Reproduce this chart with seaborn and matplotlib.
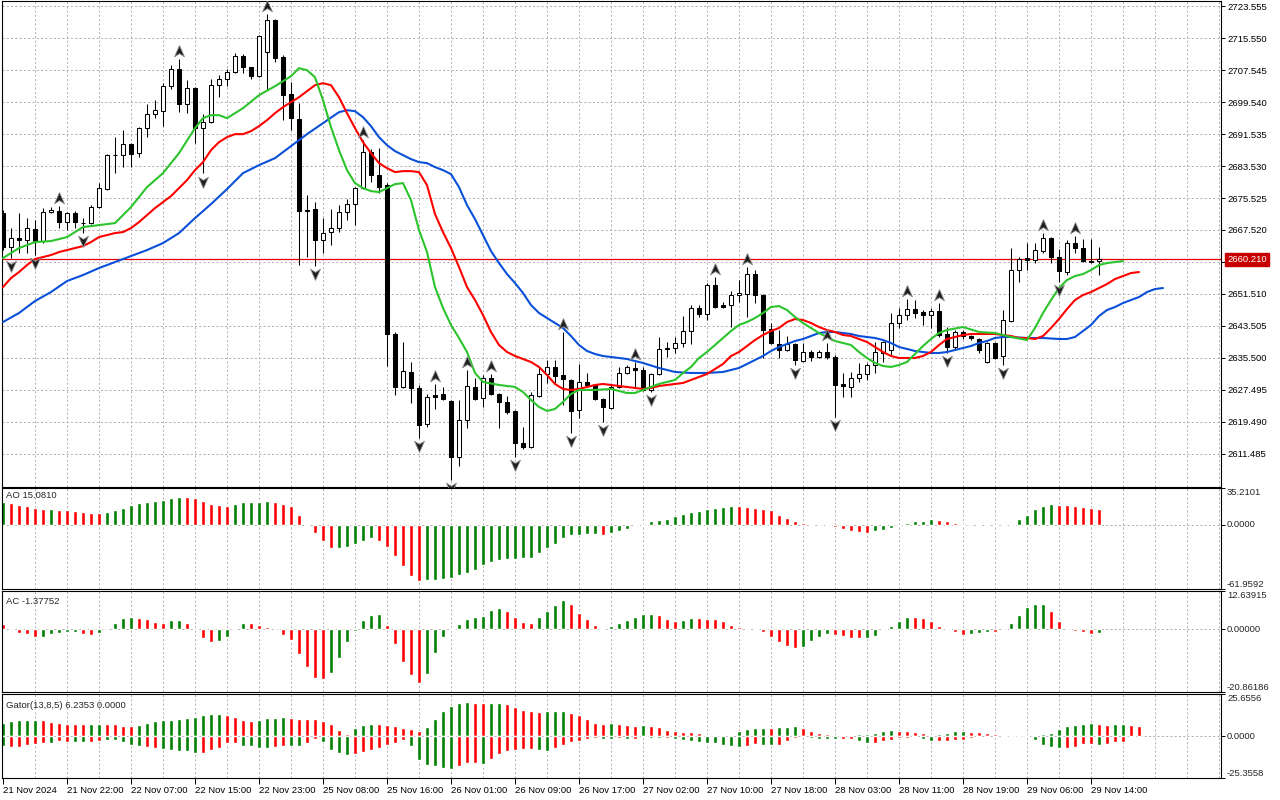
import numpy as np
import matplotlib
matplotlib.use("Agg")
import matplotlib.pyplot as plt
from matplotlib.path import Path
from matplotlib.transforms import blended_transform_factory
import seaborn as sns

sns.set_style("white")
plt.rcParams["font.family"] = ["Liberation Sans", "DejaVu Sans"]
plt.rcParams["font.size"] = 6.8

# ---------------- data (H1 candles, 21 Nov 14:00 .. 29 Nov 15:00) ----------------
opens = [
    2671.75, 2663.3, 2665.5, 2665.0, 2667.75, 2664.75, 2672.0, 2672.25, 2669.5, 2671.75,
    2669.25, 2669.25, 2673.25, 2677.75, 2686.25, 2686.25, 2689.0, 2686.75, 2693.0, 2696.5,
    2697.25, 2703.5, 2707.75, 2699.0, 2703.0, 2693.0, 2694.5, 2703.75, 2705.25, 2707.0,
    2711.0, 2708.25, 2706.0, 2712.0, 2720.0, 2710.75, 2701.5, 2695.25, 2672.5, 2672.75,
    2665.0, 2667.0, 2668.0, 2672.0, 2674.0, 2678.0, 2687.0, 2681.25, 2678.75, 2641.5,
    2628.25, 2632.0, 2628.0, 2619.0, 2626.25, 2626.5, 2624.75, 2610.75, 2620.0, 2628.25,
    2625.5, 2630.5, 2626.5, 2624.5, 2622.25, 2614.25, 2613.25, 2626.0, 2631.5, 2633.25,
    2631.25, 2630.0, 2622.5, 2629.5, 2628.75, 2625.25, 2623.0, 2628.25, 2631.75, 2633.0,
    2632.5, 2627.5, 2631.5, 2638.0, 2638.0, 2639.25, 2642.25, 2648.0, 2646.5, 2653.75,
    2648.75, 2648.75, 2651.25, 2651.5, 2656.5, 2651.25, 2642.75, 2639.0, 2637.5, 2639.0,
    2634.75, 2637.0, 2635.75, 2637.0, 2635.75, 2629.0, 2628.25, 2630.5, 2631.5, 2633.75,
    2636.75, 2637.5, 2644.25, 2646.25, 2647.75, 2647.0, 2646.25, 2647.25, 2641.5, 2638.25,
    2642.0, 2641.0, 2640.25, 2634.5, 2639.25, 2636.0, 2644.75, 2657.5, 2660.5, 2660.0,
    2662.25, 2665.5, 2660.75, 2657.0, 2664.25, 2663.0, 2659.75, 2659.75]
highs = [
    2672.5, 2668.0, 2671.75, 2670.5, 2670.0, 2673.0, 2673.25, 2673.5, 2672.0, 2672.25,
    2670.5, 2673.75, 2679.25, 2686.5, 2690.75, 2692.5, 2689.2, 2693.25, 2699.0, 2700.0,
    2704.25, 2708.75, 2710.25, 2705.0, 2703.2, 2696.5, 2705.25, 2706.25, 2707.75, 2711.75,
    2711.5, 2708.4, 2716.25, 2721.5, 2720.25, 2711.25, 2704.5, 2699.25, 2676.25, 2674.5,
    2670.5, 2672.75, 2673.75, 2675.25, 2678.2, 2690.0, 2687.75, 2688.0, 2679.25, 2642.0,
    2639.5, 2634.5, 2628.75, 2626.5, 2629.0, 2628.25, 2625.0, 2625.0, 2632.5, 2630.5,
    2631.25, 2631.5, 2626.7, 2626.0, 2622.4, 2618.25, 2627.0, 2633.25, 2635.0, 2635.0,
    2642.0, 2630.2, 2634.0, 2631.75, 2629.0, 2625.5, 2628.75, 2633.25, 2633.75, 2634.5,
    2633.25, 2631.7, 2640.75, 2639.5, 2640.75, 2646.0, 2648.75, 2648.75, 2654.25, 2655.75,
    2649.5, 2652.25, 2655.0, 2658.25, 2657.5, 2651.5, 2644.25, 2642.5, 2641.0, 2639.25,
    2639.25, 2637.5, 2637.5, 2639.25, 2636.25, 2631.75, 2632.0, 2634.25, 2634.25, 2639.5,
    2639.7, 2646.75, 2648.0, 2650.25, 2650.0, 2647.5, 2648.0, 2649.25, 2643.25, 2642.5,
    2642.5, 2641.25, 2640.5, 2639.4, 2639.4, 2647.5, 2663.0, 2660.75, 2664.25, 2664.25,
    2666.75, 2665.75, 2662.75, 2665.0, 2666.0, 2665.25, 2665.25, 2663.25]
lows = [
    2662.5, 2660.5, 2661.75, 2661.75, 2661.25, 2664.25, 2671.75, 2668.0, 2667.5, 2668.0,
    2666.75, 2669.0, 2673.0, 2677.5, 2681.75, 2683.25, 2683.25, 2685.75, 2690.75, 2695.5,
    2693.5, 2702.75, 2697.0, 2696.75, 2689.25, 2681.75, 2694.3, 2700.75, 2703.5, 2706.75,
    2706.75, 2705.25, 2705.75, 2702.5, 2709.5, 2695.0, 2692.5, 2658.75, 2660.75, 2658.5,
    2661.75, 2663.75, 2667.0, 2670.0, 2668.75, 2677.8, 2679.5, 2676.75, 2633.5, 2626.25,
    2628.0, 2624.25, 2615.5, 2618.25, 2622.75, 2625.0, 2605.0, 2608.5, 2618.0, 2625.0,
    2623.25, 2626.3, 2618.0, 2621.5, 2610.75, 2612.75, 2613.0, 2625.8, 2629.25, 2629.25,
    2623.75, 2616.75, 2620.5, 2628.25, 2625.0, 2619.5, 2622.8, 2628.0, 2631.5, 2628.25,
    2627.3, 2627.0, 2631.3, 2635.75, 2636.75, 2638.25, 2639.0, 2645.75, 2645.0, 2648.1,
    2648.0, 2643.25, 2649.5, 2645.75, 2649.25, 2635.5, 2639.0, 2635.5, 2637.3, 2633.75,
    2634.5, 2634.75, 2635.5, 2635.25, 2620.75, 2625.75, 2625.75, 2629.5, 2630.0, 2631.75,
    2634.5, 2636.25, 2643.0, 2645.0, 2645.5, 2643.75, 2643.0, 2640.75, 2636.75, 2637.5,
    2640.25, 2640.0, 2636.75, 2634.3, 2635.2, 2633.75, 2644.6, 2654.5, 2657.5, 2659.25,
    2661.75, 2659.25, 2654.5, 2656.25, 2661.75, 2659.5, 2659.25, 2656.25]
closes = [
    2663.25, 2665.4, 2665.0, 2668.0, 2664.75, 2672.0, 2672.5, 2669.5, 2671.75, 2669.5,
    2669.3, 2673.25, 2678.0, 2686.25, 2686.4, 2689.0, 2686.5, 2693.0, 2696.5, 2697.5,
    2703.5, 2707.75, 2699.0, 2703.0, 2693.0, 2694.5, 2703.75, 2705.25, 2707.0, 2711.0,
    2708.25, 2706.0, 2716.0, 2720.0, 2710.5, 2701.25, 2695.5, 2672.25, 2672.3, 2665.0,
    2666.75, 2668.0, 2672.0, 2674.0, 2678.0, 2687.0, 2681.25, 2678.25, 2641.5, 2628.25,
    2632.25, 2628.0, 2618.75, 2625.75, 2625.75, 2625.25, 2610.75, 2620.0, 2628.5, 2625.25,
    2630.5, 2626.5, 2624.5, 2622.0, 2614.25, 2613.25, 2626.25, 2631.5, 2633.25, 2631.0,
    2630.25, 2622.25, 2629.5, 2628.75, 2625.25, 2623.25, 2628.25, 2631.75, 2633.25, 2632.5,
    2627.5, 2631.5, 2637.75, 2637.75, 2639.25, 2642.25, 2648.0, 2646.5, 2653.75, 2648.25,
    2648.25, 2651.25, 2651.75, 2656.5, 2651.25, 2642.5, 2639.25, 2637.5, 2639.0, 2635.0,
    2637.0, 2635.75, 2637.0, 2635.75, 2628.75, 2628.5, 2630.5, 2631.5, 2633.75, 2637.0,
    2639.5, 2644.25, 2646.25, 2647.75, 2646.75, 2646.25, 2647.25, 2641.25, 2638.25, 2642.0,
    2641.0, 2640.5, 2637.5, 2639.25, 2635.5, 2645.0, 2657.5, 2660.25, 2660.0, 2662.5,
    2665.5, 2660.75, 2657.25, 2664.25, 2663.0, 2659.75, 2659.5, 2660.21]

fractal_up = [7, 22, 33, 45, 54, 58, 61, 70, 79, 89, 93, 103, 113, 117, 130, 134]
fractal_down = [1, 4, 10, 25, 39, 52, 56, 64, 71, 75, 81, 99, 104, 118, 125, 132]

# Alligator (jaw 13/8 blue, teeth 8/5 red, lips 5/3 green), read at these bars
jaw_x = [0, 2, 4, 6, 8, 10, 12, 14, 16, 18, 20, 22, 24, 26, 28, 30, 32, 34, 36, 38, 40, 42, 43, 44,
         45, 46, 47, 48, 49, 50, 51, 52, 53, 54, 55, 56, 57, 58, 59, 60, 61, 62, 63, 64, 65, 66,
         67, 68, 69, 70, 71, 72, 73, 74, 75, 76, 78, 80, 82, 84, 86, 88, 90, 92, 93, 94, 95, 96,
         97, 98, 99, 100, 101, 102, 103, 104, 105, 106, 107, 108, 109, 110, 111, 112, 113, 114,
         115, 116, 117, 118, 119, 120, 121, 122, 123, 124, 125, 126, 128, 130, 132, 133, 134,
         135, 136, 137, 138, 139, 140, 141, 142, 143, 144, 145]
jaw = [2644.5, 2646.75, 2649.75, 2652.0, 2654.75, 2656.25, 2658.0, 2659.5, 2661.0, 2662.5,
       2664.25, 2666.75, 2670.5, 2674.0, 2677.75, 2681.75, 2683.75, 2685.5, 2688.5, 2691.5,
       2694.25, 2697.0, 2697.5, 2697.25, 2695.75, 2693.5, 2690.75, 2688.75, 2687.25, 2686.25,
       2685.25, 2684.5, 2684.25, 2683.25, 2682.5, 2681.5, 2678.25, 2673.75, 2670.25, 2666.25,
       2662.25, 2659.25, 2656.5, 2654.25, 2651.75, 2648.75, 2646.75, 2645.5, 2644.25, 2643.0,
       2641.0, 2638.75, 2637.25, 2636.5, 2636.0, 2635.75, 2635.25, 2634.25, 2633.0, 2632.0,
       2631.75, 2631.75, 2632.0, 2633.0, 2634.0, 2635.0, 2636.0, 2637.25, 2638.25, 2639.0,
       2639.75, 2640.25, 2641.0, 2641.75, 2642.0, 2642.0, 2641.75, 2641.5, 2641.0, 2640.75,
       2640.5, 2640.0, 2639.25, 2638.25, 2637.75, 2637.25, 2637.0, 2636.75, 2636.75, 2637.0,
       2637.5, 2638.0, 2638.5, 2639.25, 2639.75, 2640.5, 2640.75, 2640.75, 2640.5, 2640.5,
       2640.25, 2640.25, 2640.75, 2642.25, 2643.75, 2646.0, 2647.5, 2648.25, 2649.25, 2650.0,
       2650.75, 2652.0, 2652.75, 2653.0]
teeth = [
    2653.25, 2655.5, 2657.0, 2658.75, 2660.25, 2660.75, 2661.25, 2662.0, 2662.5, 2663.0,
    2663.5, 2664.5, 2665.75, 2666.25, 2666.75, 2667.0, 2668.0, 2669.5, 2671.25, 2673.0,
    2674.5, 2676.0, 2678.0, 2680.0, 2682.5, 2684.5, 2687.5, 2689.5, 2690.75, 2691.5,
    2691.5, 2692.25, 2693.5, 2695.0, 2696.75, 2698.25, 2699.5, 2700.75, 2702.25, 2703.75,
    2704.25, 2703.75, 2700.75, 2696.75, 2693.0, 2689.5, 2686.75, 2684.25, 2683.0, 2682.0,
    2682.25, 2682.25, 2682.0, 2678.75, 2671.5, 2667.0, 2663.0, 2658.25, 2653.25, 2650.0,
    2646.25, 2642.0, 2638.75, 2637.0, 2636.0, 2635.25, 2634.5, 2633.25, 2631.25, 2629.0,
    2627.75, 2627.5, 2627.75, 2628.25, 2628.75, 2629.0, 2628.75, 2628.5, 2628.25, 2628.0,
    2627.75, 2628.0, 2628.5, 2628.75, 2629.0, 2629.25, 2630.0, 2630.75, 2631.5, 2632.75,
    2634.0, 2636.0, 2637.0, 2638.5, 2640.0, 2641.25, 2642.25, 2643.0, 2644.5, 2645.25,
    2645.0, 2644.25, 2643.25, 2642.5, 2642.0, 2641.25, 2641.0, 2640.25, 2639.5, 2638.25,
    2637.0, 2636.0, 2635.5, 2635.5, 2635.5, 2636.0, 2637.0, 2638.75, 2640.25, 2640.75,
    2641.25, 2641.5, 2641.5, 2641.5, 2641.5, 2641.25, 2641.0, 2640.5, 2640.5, 2640.25,
    2641.0, 2643.0, 2645.25, 2647.75, 2650.0, 2651.25, 2652.0, 2653.0, 2654.0, 2655.25,
    2656.0, 2656.75, 2657.0]
lips_x = [0, 2, 4, 6, 8, 10, 12, 14, 16, 18, 20, 22, 24, 25, 26, 27, 28, 30, 32, 34, 36, 37, 38,
          39, 40, 41, 42, 43, 44, 45, 46, 47, 48, 49, 50, 51, 52, 53, 54, 55, 56, 57, 58, 59, 60,
          62, 64, 65, 66, 67, 68, 69, 70, 71, 72, 74, 76, 78, 79, 80, 82, 84, 85, 86, 87, 88, 89,
          90, 91, 92, 93, 94, 95, 96, 97, 98, 99, 100, 101, 102, 103, 104, 106, 107, 108, 109,
          110, 111, 112, 113, 114, 115, 116, 117, 118, 120, 122, 124, 126, 128, 129, 130, 131,
          132, 133, 134, 135, 136, 137, 138, 140]
lips = [2660.5, 2663.0, 2664.5, 2664.75, 2665.75, 2668.25, 2668.75, 2669.25, 2673.25, 2678.25,
        2681.75, 2686.75, 2693.0, 2695.5, 2696.25, 2696.25, 2695.5, 2698.0, 2701.25, 2703.5,
        2706.0, 2708.0, 2707.5, 2705.75, 2700.0, 2693.25, 2687.5, 2682.5, 2679.25, 2678.0,
        2677.25, 2677.0, 2678.0, 2679.0, 2679.25, 2675.0, 2667.5, 2662.0, 2653.25, 2648.0,
        2643.75, 2640.5, 2637.0, 2631.75, 2629.5, 2628.75, 2628.25, 2627.0, 2625.0, 2623.25,
        2622.25, 2622.75, 2624.5, 2626.5, 2627.5, 2627.5, 2627.75, 2626.75, 2626.75, 2627.5,
        2629.0, 2630.0, 2631.75, 2633.25, 2635.5, 2637.0, 2638.75, 2640.5, 2642.25, 2643.75,
        2644.5, 2645.5, 2646.75, 2648.25, 2648.5, 2647.5, 2645.75, 2644.25, 2643.0, 2641.75,
        2640.75, 2639.75, 2638.75, 2637.0, 2635.5, 2634.25, 2633.5, 2633.25, 2633.75, 2634.5,
        2636.5, 2638.5, 2640.25, 2641.75, 2642.5, 2643.25, 2642.0, 2641.75, 2640.75, 2640.0,
        2643.0, 2646.75, 2650.0, 2653.0, 2655.0, 2656.0, 2656.5, 2657.5, 2658.75, 2659.25,
        2659.75]

ao = [21.7, 20.7, 18.5, 18.3, 15.9, 14.6, 14.7, 14.5, 13.7, 12.7,
      12.1, 11.2, 11.0, 12.1, 13.7, 16.2, 18.5, 20.7, 21.7, 22.4,
      23.2, 25.8, 27.0, 26.8, 25.8, 22.3, 20.1, 18.5, 18.3, 19.4,
      22.0, 22.1, 22.2, 22.3, 22.0, 19.4, 17.5, 9.5, 1.0, -8.0,
      -15.6, -22.9, -22.3, -21.3, -18.8, -15.6, -12.7, -15.6, -21.3, -30.3,
      -39.8, -49.0, -54.1, -53.2, -53.0, -52.2, -51.6, -48.4, -46.2, -43.6,
      -38.9, -36.3, -34.1, -33.1, -33.0, -32.4, -31.8, -27.1, -22.9, -18.8,
      -12.7, -10.2, -10.0, -9.2, -9.0, -10.2, -8.0, -6.1, -4.5, -1.3,
      1.0, 3.2, 4.8, 5.7, 8.0, 10.5, 12.1, 13.1, 14.6, 16.2,
      17.2, 17.8, 17.5, 17.2, 16.2, 15.3, 13.7, 9.6, 6.7, 3.2,
      1.3, 0.3, -0.3, -1.3, -2.5, -4.1, -5.7, -7.0, -8.0, -6.4,
      -4.8, -3.2, -1.3, 1.6, 3.2, 3.8, 5.1, 4.1, 3.2, 1.6,
      0.3, -0.2, -0.5, -0.8, -1.3, 0.3, 1.0, 5.1, 9.6, 14.6,
      17.8, 19.4, 19.2, 18.5, 17.5, 16.9, 16.2, 15.081]
ao_col = ("grrrrrgrrr" "rrrggggggg" "gggrrrrrrg" "ggggrrrrrr" "rrgggggrrr"
          "rrrggggggg" "gggggggggg" "gggggrgggg" "gggggggggg" "ggrrrrrrrr"
          "rrrrrrrrrg" "gggggggrrr" "rrrrrggggg" "ggrrrrrr")

ac = [1.7, -0.1, -1.3, -1.7, -2.6, -2.5, -1.7, -1.3, -1.1, -0.9,
      -1.7, -2.0, -1.3, -0.1, 2.0, 3.7, 4.1, 3.6, 3.3, 2.4,
      2.0, 3.0, 3.1, 2.0, -0.1, -3.0, -4.2, -3.9, -2.6, -0.1,
      2.0, 1.9, 1.3, 0.6, 0.05, -1.9, -3.6, -8.3, -12.6, -16.2,
      -16.7, -14.7, -9.7, -4.2, -0.6, 3.0, 4.7, 5.0, 1.3, -5.0,
      -10.9, -15.3, -18.0, -15.0, -8.0, -2.6, -0.2, 1.7, 3.3, 4.1,
      4.4, 6.4, 7.0, 5.9, 4.1, 2.4, 1.9, 4.1, 6.1, 8.1,
      9.7, 8.3, 5.3, 3.3, 1.3, -0.2, 0.9, 1.9, 3.0, 4.1,
      5.0, 5.1, 4.8, 3.3, 2.8, 3.0, 3.7, 3.6, 3.3, 3.2,
      2.6, 1.3, 0.6, -0.1, -0.2, -1.1, -2.6, -4.4, -5.6, -6.4,
      -5.9, -4.1, -2.6, -1.6, -1.9, -2.3, -2.8, -2.9, -2.8, -2.2,
      -0.3, 1.1, 2.6, 4.1, 3.9, 3.6, 2.6, 0.9, -0.2, -1.1,
      -1.9, -1.7, -1.2, -0.8, -1.0, -0.1, 1.9, 4.7, 7.2, 8.3,
      8.4, 5.9, 2.8, 0.2, -0.6, -1.1, -1.7, -1.37752]
ac_col = ("rrrrrggggg" "rrgggggrrr" "rggrrrrggg" "grrrrrrrrr" "rgggggggrr"
          "rrrggggggg" "gggrrrrggg" "grrrrrgggg" "ggrrrggrrr" "rrrrrrrrrr"
          "ggggrrrrgg" "ggggrrrrrr" "rgggrggggg" "grrrrrrg")

gator_up = [8.3, 9.3, 9.7, 9.75, 9.8, 9.6, 8.7, 8.1, 7.6, 7.5,
            7.4, 7.5, 7.6, 7.5, 7.4, 6.4, 6.2, 6.9, 8.1, 9.1,
            9.7, 9.8, 10.2, 11.0, 11.6, 12.7, 13.3, 13.4, 13.1, 11.6,
            9.7, 9.3, 9.7, 10.8, 11.2, 11.6, 10.8, 10.7, 10.7, 10.6,
            9.3, 7.7, 3.5, 1.5, 5.0, 6.9, 7.5, 7.4, 6.9, 6.0,
            4.8, 4.1, 2.9, 5.8, 10.6, 15.4, 18.5, 19.9, 20.5, 20.3,
            19.9, 20.3, 20.4, 19.5, 18.0, 16.0, 15.1, 15.0, 15.2, 15.3,
            15.4, 14.1, 12.7, 10.2, 8.3, 7.7, 7.8, 7.3, 7.0, 6.4,
            6.8, 6.0, 5.4, 3.9, 3.1, 2.5, 2.4, 2.1, 1.0, 0.4,
            0.2, 0.6, 3.1, 4.4, 5.0, 5.1, 5.0, 5.8, 5.9, 6.2,
            5.0, 3.1, 2.1, 1.5, 0.4, 0.2, 1.0, 1.1, 1.2, 2.1,
            3.3, 3.9, 3.3, 3.2, 2.3, 1.7, 1.0, 1.1, 2.1, 2.9,
            3.0, 2.7, 2.6, 2.1, 1.2, 1.0, 0.9, 0.5, 0.3, 1.0,
            1.5, 2.1, 4.1, 6.4, 6.9, 7.7, 8.1, 7.7, 7.1, 7.15,
            7.2, 6.9, 6.2353]
gator_up_col = ("gggggrrrrr" "rggrrrrggg" "ggggggggrr" "rrggggrrrr" "rrrrgggrrr"
                "rrrggggggr" "rggrrrrrgg" "grrrrrgrrr" "grrrrrrrrr" "rgggggrggg"
                "rrrrrrgggg" "ggrrrrrggg" "grrrrrrrrg" "gggggggrrg" "grr")
gator_dn = [-6.2, -6.6, -6.4, -5.6, -4.6, -4.2, -3.9, -2.9, -3.3, -3.3,
            -3.3, -3.3, -2.9, -2.3, -2.3, -3.3, -5.2, -6.2, -6.8, -7.1,
            -7.5, -8.1, -8.7, -9.1, -10.4, -10.0, -8.5, -7.1, -3.9, -3.9,
            -5.8, -6.2, -7.1, -7.1, -6.8, -6.2, -6.2, -6.2, -4.2, -1.4,
            -3.3, -8.1, -10.4, -11.6, -11.0, -9.5, -8.5, -7.1, -5.6, -4.2,
            -2.3, -6.2, -14.5, -17.4, -17.8, -19.1, -19.7, -18.1, -16.4, -16.4,
            -16.8, -13.9, -11.0, -9.1, -8.1, -7.7, -7.7, -8.1, -8.7, -7.1,
            -5.2, -3.7, -2.7, -1.7, -1.0, -1.4, -1.7, -1.0, -1.7, -1.4,
            -0.4, -1.0, -1.1, -0.8, -1.4, -2.3, -2.9, -3.3, -3.9, -4.2,
            -5.2, -5.8, -6.6, -5.8, -4.6, -5.2, -5.3, -5.2, -2.9, -1.0,
            -0.1, -0.8, -1.4, -1.7, -1.9, -1.7, -1.6, -2.9, -3.9, -3.8,
            -2.7, -2.3, -1.0, -0.8, -0.2, -1.7, -2.9, -2.8, -2.7, -2.3,
            -2.2, -1.0, -0.6, -0.2, -0.6, -0.7, -0.2, -0.6, -0.2, -2.3,
            -5.2, -6.6, -7.1, -7.0, -6.8, -4.6, -4.5, -5.2, -4.6, -3.7,
            -3.5]
gator_dn_col = ("grrrrrgrrg" "grrgggggrr" "gggggrrrrr" "ggggrrggrr" "ggggrrrrrr"
                "rggggggrrr" "grrrrrrggr" "rrrrrggrgr" "rggrgggggg" "gggrrggrrr"
                "rggggrrggr" "rrrrrggrrr" "rrrrggrgrg" "gggrrrrgrrr")

time_labels = ["21 Nov 2024", "21 Nov 22:00", "22 Nov 07:00", "22 Nov 15:00", "22 Nov 23:00",
               "25 Nov 08:00", "25 Nov 16:00", "26 Nov 01:00", "26 Nov 09:00", "26 Nov 17:00",
               "27 Nov 02:00", "27 Nov 10:00", "27 Nov 18:00", "28 Nov 03:00", "28 Nov 11:00",
               "28 Nov 19:00", "29 Nov 06:00", "29 Nov 14:00"]
price_ticks = [2723.555, 2715.550, 2707.545, 2699.540, 2691.535, 2683.530, 2675.525,
               2667.520, 2659.515, 2651.510, 2643.505, 2635.500, 2627.495, 2619.490, 2611.485]
last_price = 2660.21

# ---------------- layout ----------------
W, H = 1280, 800
GRID = "#b7aeb7"
GREEN, RED = "#008000", "#ff0000"
FS = 6.8

fig = plt.figure(figsize=(12.8, 8), dpi=100)
fig.patch.set_facecolor("white")


def rect(top, bottom, left=2, right=1221):
    return [left / W, 1 - bottom / H, (right - left) / W, (bottom - top) / H]


ax = fig.add_axes(rect(1, 486.5))
ax_ao = fig.add_axes(rect(488, 589))
ax_ac = fig.add_axes(rect(591, 692))
ax_g = fig.add_axes(rect(694, 778))
XMIN, XMAX = -1 / 8, (1221 - 3) / 8


def style(a):
    a.set_facecolor("white")
    for s in a.spines.values():
        s.set_color("black")
        s.set_linewidth(0.8)
    a.yaxis.tick_right()
    a.tick_params(axis="y", direction="out", length=3, width=0.7, pad=1.5,
                  labelsize=FS, colors="black")
    a.tick_params(axis="x", bottom=False, labelbottom=False, top=False)
    for k in range(4, 153, 4):
        a.axvline(k, color=GRID, lw=0.7, dashes=(2.2, 2.2), zorder=0)


for a in (ax, ax_ao, ax_ac, ax_g):
    style(a)

# ---------------- main chart ----------------
x = np.arange(len(opens))
o, hi, lo, c = (np.array(v, dtype=float) for v in (opens, highs, lows, closes))
for p in price_ticks:
    ax.axhline(p, color=GRID, lw=0.7, dashes=(2.2, 2.2), zorder=0)
ax.axhline(last_price, color="#e80000", lw=0.9, zorder=1.5)

ax.vlines(x, lo, hi, color="black", lw=0.75, zorder=2)
bull = c >= o
ax.bar(x, np.abs(c - o), bottom=np.minimum(o, c), width=0.5,
       color=np.where(bull, "white", "black"), edgecolor="black", linewidth=0.75, zorder=2.5)

sns.lineplot(x=jaw_x, y=jaw, ax=ax, color="#0a50d8", linewidth=1.5, zorder=3, legend=False)
sns.lineplot(x=list(range(len(teeth))), y=teeth, ax=ax, color="#ff0000", linewidth=1.5,
             zorder=3, legend=False)
sns.lineplot(x=lips_x, y=lips, ax=ax, color="#2cc42c", linewidth=1.5, zorder=3, legend=False)

up_path = Path([(0, 0.5), (0.42, -0.45), (0, -0.18), (-0.42, -0.45), (0, 0.5)],
               [Path.MOVETO, Path.LINETO, Path.LINETO, Path.LINETO, Path.CLOSEPOLY])
dn_path = Path([(0, -0.5), (0.42, 0.45), (0, 0.18), (-0.42, 0.45), (0, -0.5)],
               [Path.MOVETO, Path.LINETO, Path.LINETO, Path.LINETO, Path.CLOSEPOLY])
fu = np.array(fractal_up)
fd = np.array(fractal_down)
ax.plot(fu, hi[fu] + 2.1, ls="none", marker=up_path, ms=8.5, mfc="#1e1e1e", mec="#8c8c8c",
        mew=0.6, zorder=4)
ax.plot(fd, lo[fd] - 2.1, ls="none", marker=dn_path, ms=8.5, mfc="#1e1e1e", mec="#8c8c8c",
        mew=0.6, zorder=4)

ax.set_xlim(XMIN, XMAX)
ax.set_ylim(2603.35, 2724.81)
ax.set_yticks(price_ticks)
# the 2659.515 label sits under the current-price box in the reference
ax.set_yticklabels(["" if abs(p - last_price) < 2 else f"{p:.3f}" for p in price_ticks])
ax.set_xlabel("")
ax.set_ylabel("")
ax.annotate(f"{last_price:.3f}", xy=(1.0, last_price),
            xycoords=blended_transform_factory(ax.transAxes, ax.transData),
            xytext=(4.5, 0), textcoords="offset points", ha="left", va="center",
            fontsize=FS, color="white", zorder=10, annotation_clip=False,
            bbox=dict(boxstyle="square,pad=0.22", fc="#c80000", ec="#c80000"))

# ---------------- indicator panels ----------------
def col(s):
    return [GREEN if ch == "g" else RED for ch in s]


def right_labels(a, vals, texts):
    a.set_yticks(vals)
    a.set_yticklabels([])
    tr = blended_transform_factory(a.transAxes, a.transData)
    for i, (v, t) in enumerate(zip(vals, texts)):
        va = "bottom" if i == 0 else ("top" if i == len(vals) - 1 else "center")
        a.text(1.0 + 6 / 1219, v, t, transform=tr, ha="left", va=va, fontsize=FS,
               clip_on=False)


xa = np.arange(len(ao))
ax_ao.axhline(0, color=GRID, lw=0.7, dashes=(2.2, 2.2), zorder=0)
ax_ao.bar(xa, ao, width=0.56, color=col(ao_col), zorder=2)
ax_ao.set_xlim(XMIN, XMAX)
ax_ao.set_ylim(-61.9592, 35.2101)
right_labels(ax_ao, [-61.9592, 0.0, 35.2101], ["-61.9592", "0.0000", "35.2101"])

ax_ac.axhline(0, color=GRID, lw=0.7, dashes=(2.2, 2.2), zorder=0)
ax_ac.bar(np.arange(len(ac)), ac, width=0.56, color=col(ac_col), zorder=2)
ax_ac.set_xlim(XMIN, XMAX)
ax_ac.set_ylim(-20.86186, 12.63915)
right_labels(ax_ac, [-20.86186, 0.0, 12.63915], ["-20.86186", "0.00000", "12.63915"])

ax_g.axhline(0, color=GRID, lw=0.7, dashes=(2.2, 2.2), zorder=0)
ax_g.bar(np.arange(len(gator_up)), gator_up, width=0.56, color=col(gator_up_col), zorder=2)
ax_g.bar(np.arange(len(gator_dn)), gator_dn, width=0.56, color=col(gator_dn_col), zorder=2)
ax_g.set_xlim(XMIN, XMAX)
ax_g.set_ylim(-25.3558, 25.6556)
right_labels(ax_g, [-25.3558, 0.0, 25.6556], ["-25.3558", "0.0000", "25.6556"])

ax_g.set_xticks(np.arange(0, 8 * len(time_labels), 8))
ax_g.set_xticklabels(time_labels, ha="left")
ax_g.tick_params(axis="x", bottom=True, labelbottom=True, direction="out", length=4,
                 width=0.7, pad=1.5, labelsize=FS, colors="black")

fig.text(6 / W, 1 - 496 / H, "AO 15.0810", ha="left", va="center", fontsize=FS)
fig.text(6 / W, 1 - 601 / H, "AC -1.37752", ha="left", va="center", fontsize=FS)
fig.text(6 / W, 1 - 705 / H, "Gator(13,8,5) 6.2353 0.0000", ha="left", va="center", fontsize=FS)

fig.savefig("out.png", dpi=100, facecolor="white")
